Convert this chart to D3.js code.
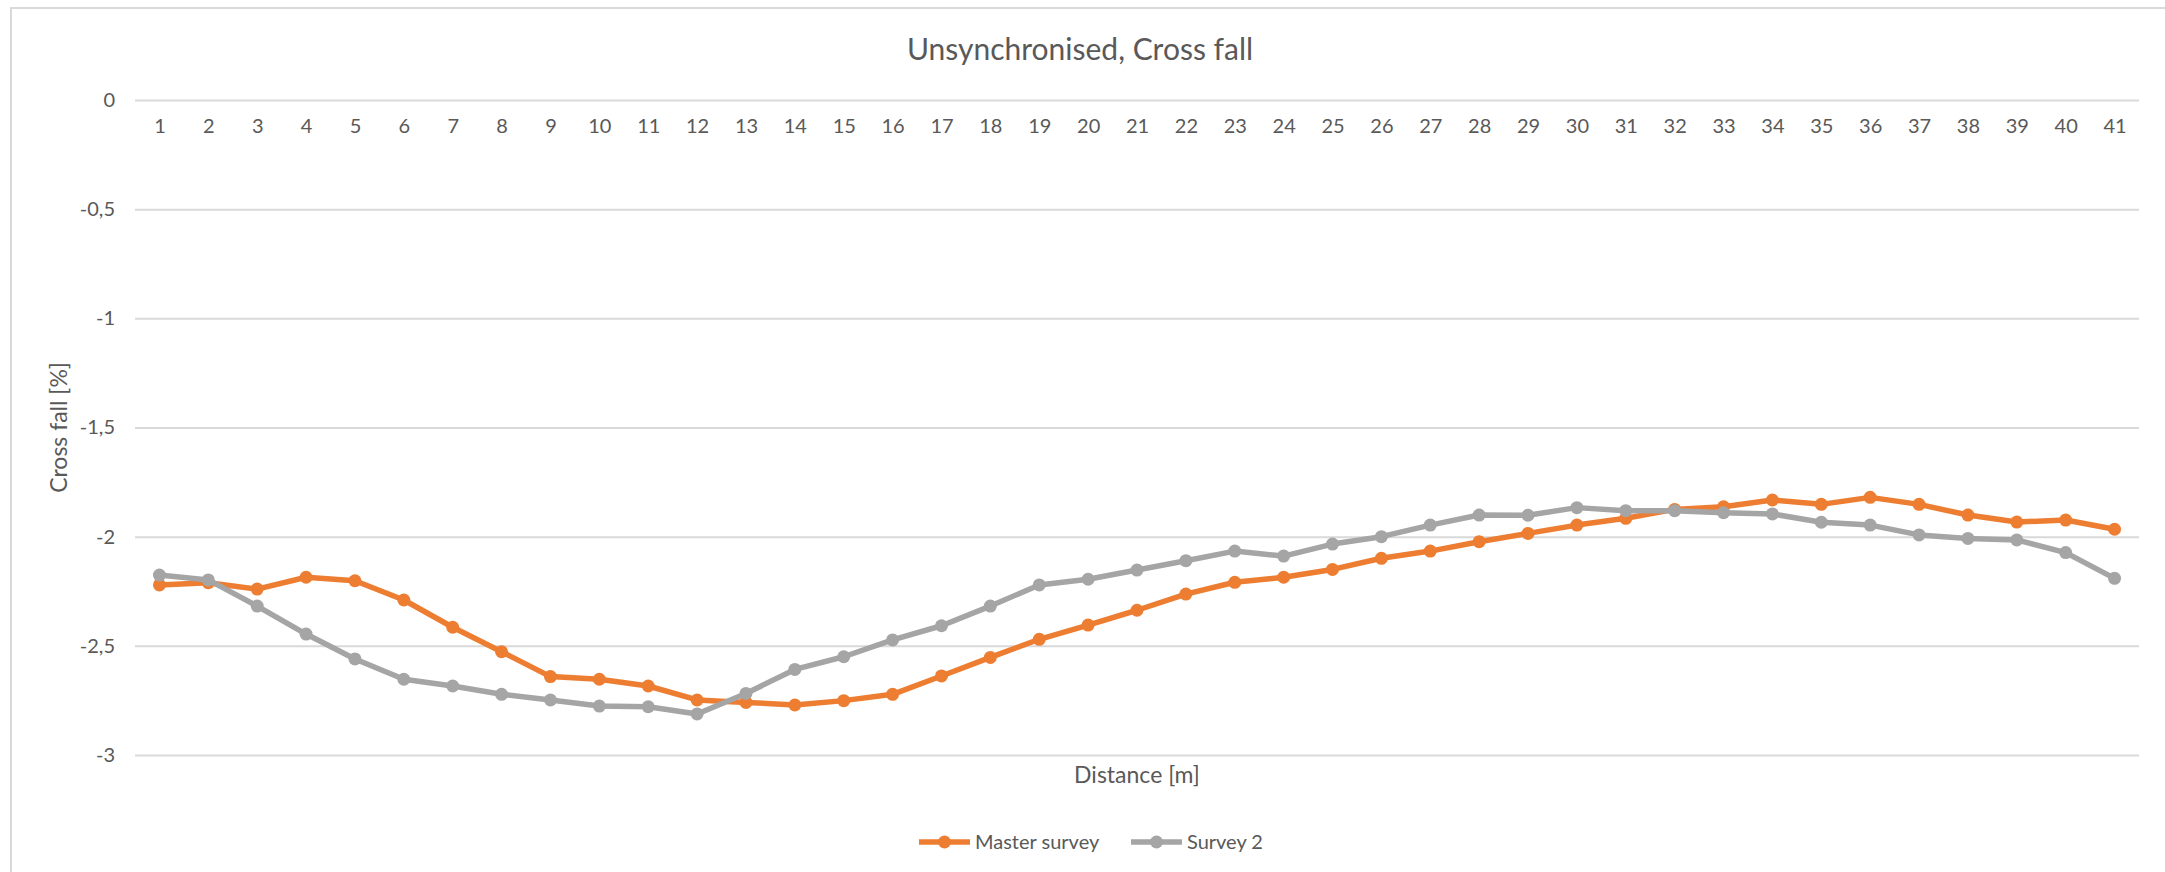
<!DOCTYPE html>
<html>
<head>
<meta charset="utf-8">
<script src="https://cdn.jsdelivr.net/npm/d3@7"></script>
<style>
  body { margin: 0; background: #fff; }
  text { font-family: Lato, "Open Sans", sans-serif; fill: #595959; }
</style>
</head>
<body>
<svg width="2165" height="872"></svg>
<script>
////////////////////////////// DATA //////////////////////////////

var distances = [1, 2, 3, 4, 5, 6, 7, 8, 9, 10, 11, 12, 13, 14, 15, 16, 17, 18, 19, 20,
                 21, 22, 23, 24, 25, 26, 27, 28, 29, 30, 31, 32, 33, 34, 35, 36, 37, 38, 39, 40, 41];

var masterSurvey = [-2.221, -2.211, -2.240, -2.186, -2.202, -2.290, -2.415, -2.527, -2.641, -2.653,
                    -2.684, -2.748, -2.759, -2.771, -2.751, -2.722, -2.638, -2.553, -2.470, -2.405,
                    -2.337, -2.263, -2.209, -2.186, -2.150, -2.099, -2.066, -2.023, -1.985, -1.947,
                    -1.916, -1.875, -1.863, -1.832, -1.852, -1.820, -1.852, -1.901, -1.933, -1.924,
                    -1.966];

var survey2 = [-2.176, -2.198, -2.318, -2.446, -2.560, -2.653, -2.684, -2.722, -2.748, -2.776,
               -2.779, -2.812, -2.718, -2.608, -2.550, -2.473, -2.408, -2.318, -2.221, -2.195,
               -2.153, -2.110, -2.066, -2.089, -2.034, -2.000, -1.947, -1.901, -1.902, -1.867,
               -1.881, -1.881, -1.890, -1.896, -1.934, -1.947, -1.992, -2.008, -2.015, -2.073,
               -2.191];

var yTicks = [0, -0.5, -1, -1.5, -2, -2.5, -3];

var seriesNames = ['Master survey', 'Survey 2'];
var seriesColors = ['#ED7D31', '#A5A5A5'];

////////////////////////////// SETUP //////////////////////////////

var svg = d3.select("svg"),
    width = +svg.attr("width"),
    height = +svg.attr("height");

var plot = {left: 135, right: 2139, top: 100, bottom: 755};

// comma decimals and a plain hyphen for minus, like the original sheet
var fmt = d3.formatLocale({decimal: ",", thousands: ".", grouping: [3],
                           currency: ["", ""], minus: "-"}).format("~g");

var x = d3.scalePoint().domain(distances).range([plot.left, plot.right]).padding(0.5);
var y = d3.scaleLinear().domain([-3, 0]).range([plot.bottom, plot.top]);

// chart border (runs off the right / bottom edge in the original)
svg.append("rect")
    .attr("x", 11).attr("y", 8)
    .attr("width", 2300).attr("height", 1000)
    .attr("fill", "none")
    .attr("stroke", "#d9d9d9")
    .attr("stroke-width", 2);

////////////////////////////// AXES //////////////////////////////

// y gridlines + labels
var yAxis = svg.append("g")
    .attr("transform", "translate(" + plot.left + ",0)")
    .call(d3.axisLeft(y).tickValues(yTicks).tickFormat(fmt)
          .tickSize(-(plot.right - plot.left)).tickPadding(20));
yAxis.select(".domain").remove();
yAxis.selectAll(".tick line").attr("stroke", "#d9d9d9").attr("stroke-width", 2);
yAxis.selectAll(".tick text").attr("font-size", 20).style("font-family", "Lato");

// x labels sit just below the 0 line
var xAxis = svg.append("g")
    .attr("transform", "translate(0," + y(0) + ")")
    .call(d3.axisBottom(x).tickSize(0).tickPadding(19));
xAxis.select(".domain").remove();
xAxis.selectAll(".tick text").attr("font-size", 20).style("font-family", "Lato");

////////////////////////////// LINES //////////////////////////////

var line = d3.line()
    .x(function(d, i) { return x(distances[i]); })
    .y(function(d) { return y(d); });

[masterSurvey, survey2].forEach(function(values, k) {
    var g = svg.append("g").attr("class", "series_" + k);
    g.append("path")
        .datum(values)
        .attr("fill", "none")
        .attr("stroke", seriesColors[k])
        .attr("stroke-width", 5.5)
        .attr("stroke-linejoin", "round")
        .attr("d", line);
    g.selectAll("circle")
        .data(values).enter().append("circle")
        .attr("cx", function(d, i) { return x(distances[i]); })
        .attr("cy", function(d) { return y(d); })
        .attr("r", 6.5)
        .attr("fill", seriesColors[k]);
});

////////////////////////////// TEXT //////////////////////////////

svg.append("text")
    .attr("x", 1080).attr("y", 60)
    .attr("text-anchor", "middle")
    .attr("font-size", 30)
    .text("Unsynchronised, Cross fall");

svg.append("text")
    .attr("x", (plot.left + plot.right) / 2).attr("y", 783)
    .attr("text-anchor", "middle")
    .attr("font-size", 23)
    .text("Distance [m]");

svg.append("text")
    .attr("transform", "translate(67," + (plot.top + plot.bottom) / 2 + ") rotate(-90)")
    .attr("text-anchor", "middle")
    .attr("font-size", 23)
    .text("Cross fall [%]");

// legend
var legendX = [919, 1131];
var legend = svg.append("g").attr("class", "legend")
    .selectAll("g").data(seriesNames).enter().append("g")
    .attr("transform", function(d, i) { return "translate(" + legendX[i] + ",842)"; });
legend.append("line")
    .attr("x1", 0).attr("x2", 51)
    .attr("stroke", function(d, i) { return seriesColors[i]; })
    .attr("stroke-width", 5.5);
legend.append("circle")
    .attr("cx", 25.5).attr("r", 6.5)
    .attr("fill", function(d, i) { return seriesColors[i]; });
legend.append("text")
    .attr("x", 56).attr("dy", "0.35em")
    .attr("font-size", 20)
    .text(function(d) { return d; });
</script>
</body>
</html>
